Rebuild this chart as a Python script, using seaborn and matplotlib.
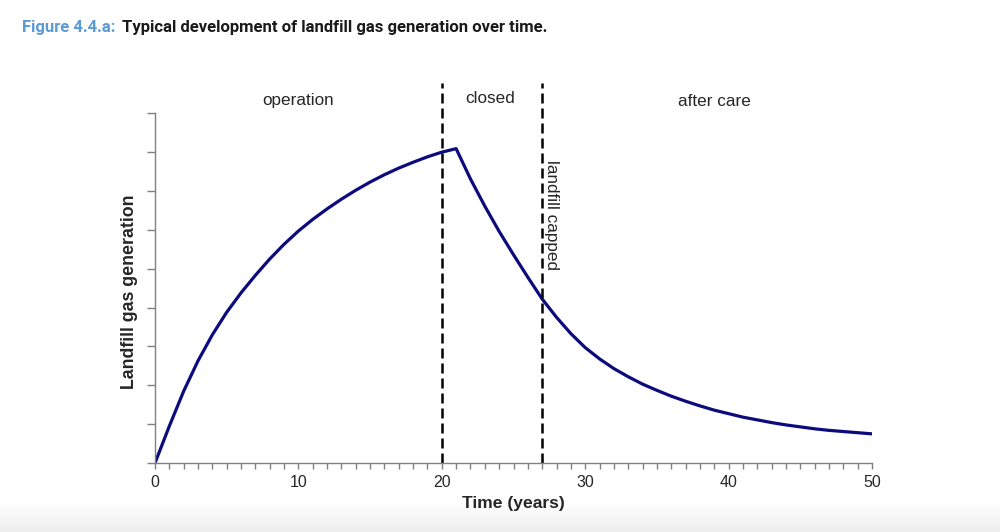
import numpy as np
import pandas as pd
import matplotlib
matplotlib.use("Agg")
import matplotlib.pyplot as plt
import seaborn as sns

years = list(range(0, 51))
gas = [0.00, 0.95, 1.85, 2.63, 3.30, 3.88, 4.38, 4.83, 5.25, 5.63,
       5.97, 6.27, 6.54, 6.79, 7.02, 7.23, 7.42, 7.59, 7.74, 7.88,
       8.00, 8.09, 7.31, 6.61, 5.96, 5.36, 4.78, 4.22, 3.75, 3.33,
       2.97, 2.68, 2.43, 2.22, 2.03, 1.87, 1.72, 1.59, 1.47, 1.36,
       1.27, 1.18, 1.11, 1.04, 0.98, 0.93, 0.88, 0.84, 0.81, 0.78, 0.75]
phase_lines = [20, 27]
phase_labels = ["operation", "closed", "after care"]
phase_label_x = [10, 23.4, 39]
phase_label_y = [9.32, 9.37, 9.3]
capped_label = "landfill capped"
xticks = [0, 10, 20, 30, 40, 50]
title_prefix = "Figure 4.4.a:"
title_text = "Typical development of landfill gas generation over time."

df = pd.DataFrame({"Time": years, "Gas": gas})

sns.set_style("white")
plt.rcParams['font.family'] = ['Liberation Sans', 'DejaVu Sans']

fig = plt.figure(figsize=(10, 5.32), dpi=100)
ax = fig.add_axes([0.155, 0.1297, 0.717, 0.7143])

sns.lineplot(data=df, x="Time", y="Gas", ax=ax, color="#0b0b7d", linewidth=2.3)

ax.set_xlim(0, 50)
ax.set_ylim(0, 9.78)
ax.set_xticks(xticks)
ax.set_xticks(range(0, 51), minor=True)
ax.set_yticks(np.arange(0, 10, 1))
ax.set_yticklabels([])
ax.tick_params(axis="x", which="both", direction="out", length=4.5, width=1,
               color="#808080", labelsize=11.5, pad=4.5, bottom=True)
ax.tick_params(axis="y", direction="out", length=6, width=1, color="#808080", left=True)
for s in ["top", "right"]:
    ax.spines[s].set_visible(False)
for s in ["left", "bottom"]:
    ax.spines[s].set_color("#808080")
    ax.spines[s].set_linewidth(1)
ax.spines["left"].set_bounds(0, 9)

for xv in phase_lines:
    ax.axvline(xv, color="black", linestyle=(0, (4, 2)), linewidth=1.8, clip_on=False)

for lbl, xv, yv in zip(phase_labels, phase_label_x, phase_label_y):
    ax.text(xv, yv, lbl, ha="center", va="center", fontsize=12.3)
ax.text(27.15, 7.8, capped_label, rotation=-90, ha="left", va="top", fontsize=12.3)

ax.set_xlabel("Time (years)", fontsize=12.6, fontweight="bold", labelpad=4)
ax.set_ylabel("Landfill gas generation", fontsize=12.8, fontweight="bold")
ax.yaxis.set_label_coords(-0.024, 0.45)

t1 = fig.text(0.022, 0.948, title_prefix, color="#5b9bd5", fontsize=12,
              fontweight="bold", family=["Roboto", "DejaVu Sans"], va="center")
fig.canvas.draw()
bb = t1.get_window_extent()
x2 = (bb.x1 + 7) / fig.bbox.width
fig.text(x2, 0.948, title_text, color="#1a1a1a", fontsize=12,
         fontweight="bold", family=["Roboto", "DejaVu Sans"], va="center")

# screenshot-like bottom shade
grad_ax = fig.add_axes([0, 0, 1, 0.055], zorder=-1)
grad = np.linspace(0, 1, 50).reshape(-1, 1)
grad_ax.imshow(grad, aspect="auto", cmap=matplotlib.colors.LinearSegmentedColormap.from_list(
    "g", ["#eeeeee", "#ffffff"]), origin="lower", extent=[0, 1, 0, 1])
grad_ax.axis("off")

fig.savefig("out.png", dpi=100)
